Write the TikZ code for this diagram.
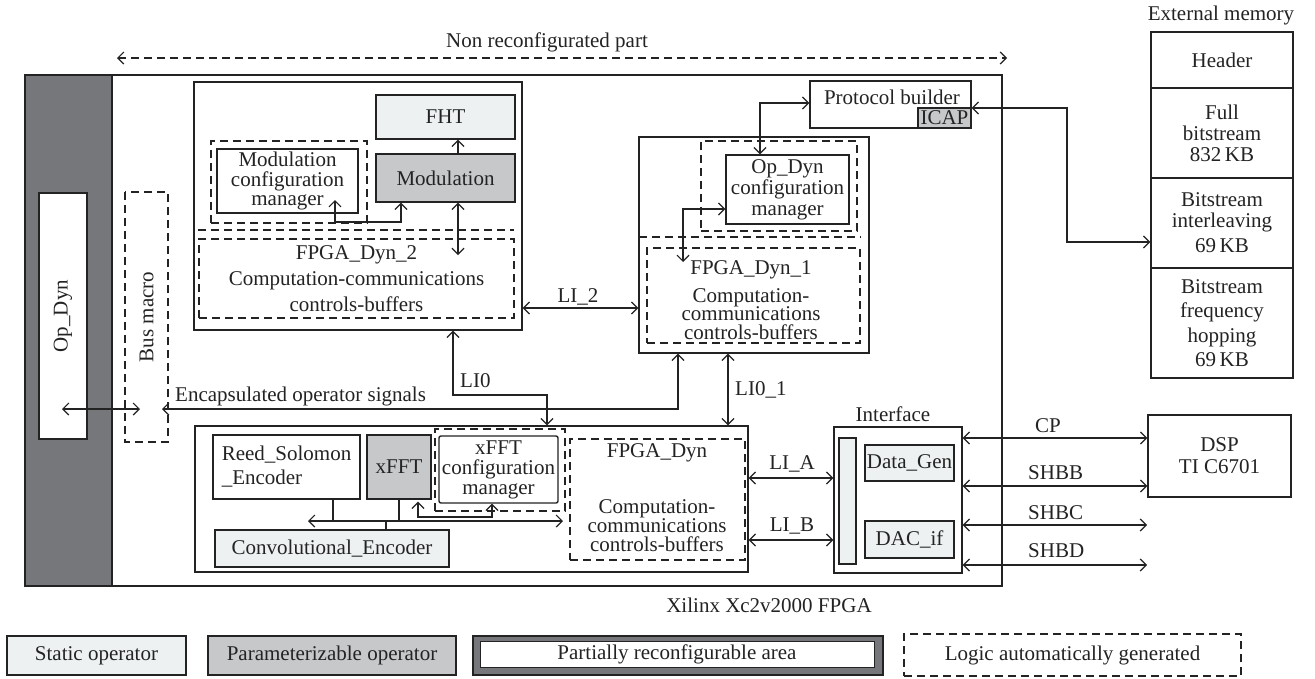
\documentclass[tikz,border=0pt]{standalone}
\usepackage{fontspec}
\setmainfont{Liberation Serif}
\usetikzlibrary{arrows.meta}
\definecolor{lfill}{RGB}{237,241,242}
\definecolor{gfill}{RGB}{199,200,202}
\definecolor{dstrip}{RGB}{118,119,123}
\definecolor{ln}{RGB}{35,35,35}
\begin{document}
\begin{tikzpicture}[x=1pt,y=-1pt,
  every node/.style={font=\fontsize{21}{20}\selectfont, text=ln, inner sep=0pt, align=center},
  sz/.style 2 args={minimum width=#1pt, minimum height=#2pt},
  bx/.style={draw=ln, line width=1.4pt},
  dbx/.style={draw=ln, line width=1.2pt, dash pattern=on 8pt off 5pt},
  dsh/.style={dash pattern=on 8pt off 5pt},
  lf/.style={fill=lfill},
  gf/.style={fill=gfill},
  wire/.style={draw=ln, line width=1.2pt},
  arr/.style={wire, {Straight Barb[length=6pt,width=12pt]}-{Straight Barb[length=6pt,width=12pt]}},
  arrR/.style={wire, -{Straight Barb[length=6pt,width=12pt]}},
  lbl/.style={fill=none}
]
\useasboundingbox (0,0) rectangle (1315,678);
\fill[white] (0,0) rectangle (1315,678);

% FPGA outer
\node[bx, sz={977}{511}] (fpga) at (513.5,330.5) {};
\node[bx, fill=dstrip, sz={87}{511}] (strip) at (68.5,330.5) {};
\node[bx, fill=white, sz={246}{48}, rotate=90] (opdyn) at (63,316) {Op\_Dyn};
\node[dbx, sz={250}{43}, rotate=90] (busm) at (146.5,317) {Bus macro};
\node[lbl] (xil) at (769,605) {Xilinx Xc2v2000 FPGA};

% top dashed arrow
\coordinate (nrL) at (117,58);
\coordinate (nrR) at (1007,58);
\draw[arr, dsh] (nrL) -- (nrR);
\node[lbl] (nrlab) at (547,42) {Non reconfigurated part};

% FPGA_Dyn_2
\node[bx, sz={328}{248}] (fd2) at (358,206) {};
\node[bx, lf, sz={139}{44}] (fht) at (445.5,117) {FHT};
\node[bx, gf, sz={139}{48}] (mod) at (445.5,178) {Modulation};
\node[dbx, sz={156}{82}] (mcd) at (289,182) {};
\node[bx, sz={141}{64}, font=\fontsize{21}{19.5}\selectfont] (mcm) at (287.5,181) {Modulation\\configuration\\manager};
\draw[wire, dsh] (198,230) -- (514,230);
\node[dbx, sz={315}{79}, font=\fontsize{21}{26}\selectfont] (fd2in) at (356.5,278.5) {FPGA\_Dyn\_2\\Computation-communications\\controls-buffers};

% FPGA_Dyn_1
\node[bx, sz={230}{216}] (fd1) at (754,245) {};
\node[dbx, sz={156}{90}] (ocd) at (779,186) {};
\node[bx, sz={123}{69}, font=\fontsize{21}{21}\selectfont] (ocm) at (787.5,189.5) {Op\_Dyn\\configuration\\manager};
\draw[wire, dsh] (639,237) -- (861,237);
\node[dbx, sz={213}{95}] (fd1in) at (753.5,295.5) {};
\node[lbl, font=\fontsize{21}{18.5}\selectfont] (fd1txt) at (751,300) {FPGA\_Dyn\_1\\[9pt]Computation-\\communications\\controls-buffers};

% Protocol builder
\node[bx, sz={161}{47}] (pb) at (890.5,104.5) {};
\node[lbl] (pbtxt) at (892,97) {Protocol builder};
\node[bx, gf, sz={53}{20}] (icap) at (944.5,118) {ICAP};

% External memory
\node[lbl] (memlab) at (1221,15) {External memory};
\node[bx, sz={142}{56}] (mem1) at (1222,60) {Header};
\node[bx, sz={142}{90}, font=\fontsize{21}{21}\selectfont] (mem2) at (1222,133) {Full\\bitstream\\832\,KB};
\node[bx, sz={142}{90}, font=\fontsize{21}{21}\selectfont] (mem3) at (1222,223) {Bitstream\\interleaving\\[4pt]69\,KB};
\node[bx, sz={142}{110}, font=\fontsize{21}{24.5}\selectfont] (mem4) at (1222,323) {Bitstream\\frequency\\hopping\\69\,KB};

% DSP
\node[bx, sz={143}{82}, font=\fontsize{21}{22}\selectfont] (dsp) at (1219.5,456) {DSP\\TI C6701};

% Interface
\node[lbl] (intlab) at (893,414) {Interface};
\node[bx, sz={128}{146}] (intf) at (898,500) {};
\node[bx, lf, sz={17}{126}] (bar) at (847.5,501) {};
\node[bx, lf, sz={89}{36}] (dgen) at (909.5,463) {Data\_Gen};
\node[bx, lf, sz={89}{37}] (dac) at (909.5,539.5) {DAC\_if};

% Lower FPGA_Dyn
\node[bx, sz={553}{146}] (low) at (471.5,499) {};
\node[bx, sz={147}{64}, align=left, font=\fontsize{21}{24}\selectfont] (rs) at (286.5,467) {Reed\_Solomon\\\_Encoder};
\node[bx, gf, sz={64}{64}] (xfft) at (399,467) {xFFT};
\node[dbx, sz={130}{82}] (xcd) at (500,470) {};
\node[bx, rounded corners=2pt, sz={119}{67}, font=\fontsize{21}{20}\selectfont] (xcm) at (498.5,469.5) {xFFT\\configuration\\manager};
\node[dbx, sz={175}{121}] (fdd) at (657.5,499.5) {};
\node[lbl] (fddtit) at (657,453) {FPGA\_Dyn};
\node[lbl, font=\fontsize{21}{19}\selectfont] (fddtxt) at (657,526) {Computation-\\communications\\controls-buffers};
\node[bx, lf, sz={234}{37}] (conv) at (332,548.5) {Convolutional\_Encoder};

% Legend
\node[bx, lf, sz={179}{39}] (leg1) at (96.5,655.5) {Static operator};
\node[bx, gf, sz={248}{39}] (leg2) at (332,655.5) {Parameterizable operator};
\node[bx, fill=dstrip, sz={410}{39}] (leg3) at (678,655.5) {};
\node[draw=ln, line width=0.8pt, fill=white, sz={394}{26}] (leg3in) at (677,654) {Partially reconfigurable area};
\node[dbx, sz={337}{42}] (leg4) at (1072.5,655) {Logic automatically generated};

% ---- connectors ----
\draw[arrR] (mod.north -| 458,0) -- (fht.south -| 458,0);
\coordinate (mcmIn) at (335,200);
\draw[arr] (mcmIn) -- (335,222) -- (401,222) -- (mod.south -| 401,0);
\coordinate (m2end) at (458,255);
\draw[arr] (mod.south -| 458,0) -- (m2end);

\draw[arr] (fd2.east |- 0,308) -- (fd1.west |- 0,308);
\node[lbl] (li2) at (578,297) {LI\_2};

\draw[arr] (fd2.south -| 453,0) -- (453,395) -- (547,395) -- (low.north -| 547,0);
\node[lbl, anchor=west] (li0) at (460,381) {LI0};

\coordinate (bmR) at (162,409);
\draw[arr] (bmR) -- (678,409) -- (fd1.south -| 678,0);
\node[lbl, anchor=west] (enc) at (175,396) {Encapsulated operator signals};

\coordinate (odA) at (62,409);
\coordinate (odB) at (140,409);
\draw[arr] (odA) -- (odB);

\draw[arr] (fd1.south -| 728,0) -- (low.north -| 728,0);
\node[lbl, anchor=west] (li01) at (735,390) {LI0\_1};

\draw[arr] (low.east |- 0,478) -- (intf.west |- 0,478);
\node[lbl] (lia) at (792,464) {LI\_A};
\draw[arr] (low.east |- 0,540) -- (intf.west |- 0,540);
\node[lbl] (lib) at (792,526) {LI\_B};

\draw[arr] (intf.east |- 0,438) -- (dsp.west |- 0,438);
\node[lbl] (cp) at (1048,426) {CP};
\draw[arr] (intf.east |- 0,486) -- (dsp.west |- 0,486);
\node[lbl, anchor=west] (shbb) at (1028,473) {SHBB};
\coordinate (shbcE) at (1147,525);
\draw[arr] (intf.east |- 0,525) -- (shbcE);
\node[lbl, anchor=west] (shbc) at (1028,513) {SHBC};
\coordinate (shbdE) at (1147,565);
\draw[arr] (intf.east |- 0,565) -- (shbdE);
\node[lbl, anchor=west] (shbd) at (1028,551) {SHBD};

\draw[arr] (pb.east |- 0,108) -- (1067,108) -- (1067,242) -- (mem3.west |- 0,242);
\draw[arr] (ocm.north -| 760,0) -- (760,103) -- (pb.west |- 0,103);
\coordinate (f1end) at (683,262);
\draw[arr] (ocm.west |- 0,209) -- (683,209) -- (f1end);

\coordinate (busL) at (308,521);
\coordinate (busR) at (563,521);
\draw[arr] (busL) -- (busR);
\draw[wire] (rs.south -| 333,0) -- (333,521);
\draw[wire] (xfft.south -| 399,0) -- (399,521);
\draw[wire] (conv.north -| 386,0) -- (386,521);
\draw[arr, shorten <=2pt] (xfft.south -| 418,0) -- (418,517) -- (492,517) -- (xcm.south -| 492,0);
\end{tikzpicture}
\end{document}
